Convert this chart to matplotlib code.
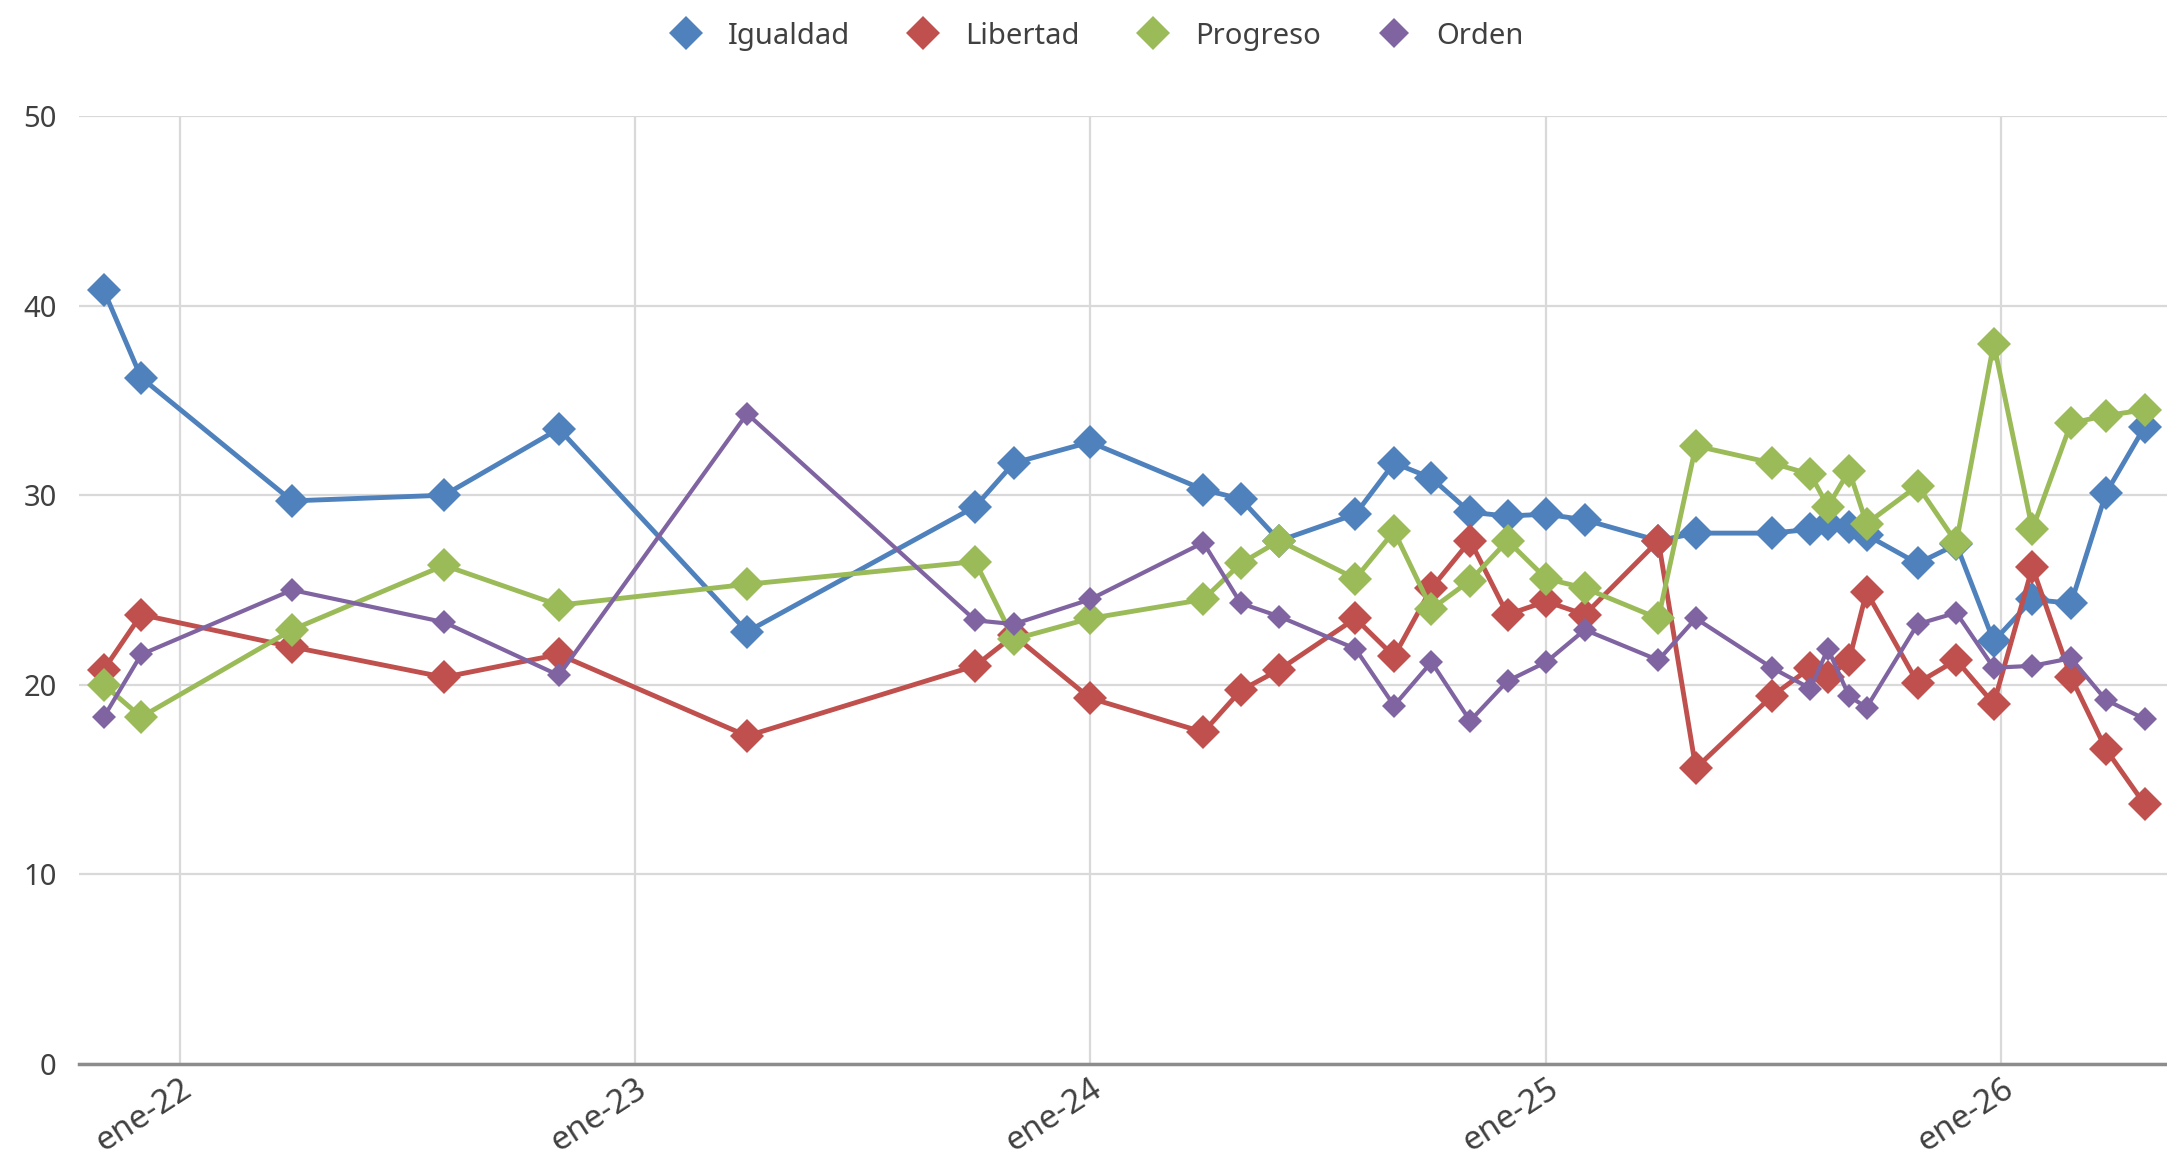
import numpy as np
import pandas as pd
import matplotlib
matplotlib.use('Agg')
import matplotlib.pyplot as plt
from matplotlib.lines import Line2D
from matplotlib.transforms import ScaledTranslation

# poll dates (one per survey)
dates = ["2021-11-01", "2021-12-01", "2022-04-01", "2022-08-01", "2022-11-01",
         "2023-04-01", "2023-10-01", "2023-11-01", "2024-01-01", "2024-04-01",
         "2024-05-01", "2024-06-01", "2024-08-01", "2024-09-01", "2024-10-01",
         "2024-11-01", "2024-12-01", "2025-01-01", "2025-02-01", "2025-04-01",
         "2025-05-01", "2025-07-01", "2025-08-01", "2025-08-15", "2025-09-01",
         "2025-09-15", "2025-10-26", "2025-11-26", "2025-12-26", "2026-01-26",
         "2026-02-26", "2026-03-26", "2026-04-26"]

igualdad = [40.8, 36.2, 29.7, 30.0, 33.5, 22.8, 29.4, 31.7, 32.8, 30.3, 29.8,
            27.6, 29.0, 31.7, 30.9, 29.1, 28.9, 29.0, 28.7, 27.6, 28.0, 28.0,
            28.2, 28.5, 28.3, 27.9, 26.4, 27.4, 22.3, 24.5, 24.3, 30.1, 33.6]
libertad = [20.8, 23.7, 22.0, 20.4, 21.6, 17.3, 21.0, 22.6, 19.3, 17.5, 19.7,
            20.8, 23.5, 21.5, 25.1, 27.6, 23.7, 24.4, 23.7, 27.6, 15.6, 19.4,
            20.9, 20.4, 21.3, 24.9, 20.1, 21.3, 19.0, 26.2, 20.4, 16.6, 13.7]
progreso = [20.0, 18.3, 22.9, 26.3, 24.2, 25.3, 26.5, 22.4, 23.5, 24.5, 26.4,
            27.6, 25.6, 28.1, 24.0, 25.5, 27.6, 25.6, 25.1, 23.5, 32.6, 31.7,
            31.1, 29.4, 31.3, 28.5, 30.5, 27.5, 38.0, 28.2, 33.8, 34.2, 34.5]
orden = [18.3, 21.6, 25.0, 23.3, 20.5, 34.3, 23.4, 23.2, 24.5, 27.5, 24.3,
         23.6, 21.9, 18.9, 21.2, 18.1, 20.2, 21.2, 22.9, 21.3, 23.5, 20.9,
         19.8, 21.9, 19.4, 18.8, 23.2, 23.8, 20.9, 21.0, 21.4, 19.2, 18.2]

series_names = ["Igualdad", "Libertad", "Progreso", "Orden"]
series_values = [igualdad, libertad, progreso, orden]
colors = ["#4F81BD", "#C0504D", "#9BBB59", "#8064A2"]
year_ticks = ["2022-01-01", "2023-01-01", "2024-01-01", "2025-01-01", "2026-01-01"]
year_labels = ["ene-22", "ene-23", "ene-24", "ene-25", "ene-26"]

plt.rcParams['font.family'] = ['Noto Sans', 'DejaVu Sans']

x = pd.to_datetime(dates)

fig = plt.figure(figsize=(21.67, 11.66), dpi=100)
ax = fig.add_axes([0.0364, 0.0875, 0.9636, 0.813])

for name, vals, c in zip(series_names, series_values, colors):
    small = name == "Orden"
    ax.plot(x, vals, color=c, lw=3.0 if small else 3.5,
            marker='D', ms=12.5 if small else 17,
            markeredgewidth=0, label=name)

ax.set_ylim(0, 50)
ax.set_yticks(np.arange(0, 51, 10))
ax.set_xlim(pd.Timestamp("2021-10-12"), pd.Timestamp("2026-05-14"))
ax.set_xticks(pd.to_datetime(year_ticks))
ax.set_xticklabels(year_labels, rotation=33, ha='right', va='top',
                   rotation_mode='anchor', fontsize=24)
for lbl in ax.get_xticklabels():
    lbl.set_transform(lbl.get_transform() +
                      ScaledTranslation(0.52, -0.08, fig.dpi_scale_trans))

ax.grid(True, color='#D9D9D9', lw=1.6)
ax.set_axisbelow(True)
for s in ['top', 'right', 'left']:
    ax.spines[s].set_visible(False)
ax.spines['bottom'].set_color('#8C8C8C')
ax.spines['bottom'].set_linewidth(2.5)
ax.tick_params(axis='both', length=0, colors='#404040')
ax.tick_params(axis='y', pad=16, labelsize=21)
ax.tick_params(axis='x', pad=6)

handles = [Line2D([], [], color=c, marker='D', ms=17 if n != "Orden" else 15,
                  lw=0, markeredgewidth=0) for n, c in zip(series_names, colors)]
fig.legend(handles, series_names, loc='center', bbox_to_anchor=(0.503, 0.969),
           ncol=4, frameon=False, fontsize=21, handletextpad=0.45,
           columnspacing=1.5, labelcolor='#404040')

plt.savefig('out.png', dpi=100)
plt.close(fig)
